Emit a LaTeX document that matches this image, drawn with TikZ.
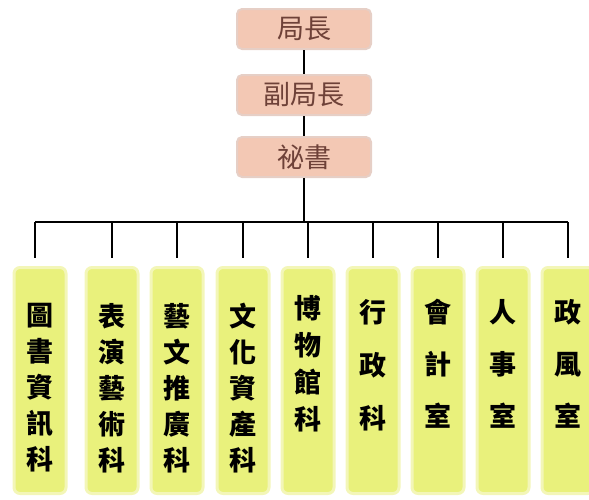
\documentclass[tikz,border=0pt]{standalone}
\usepackage{fontspec}
\newfontfamily\cjk{Noto Sans CJK TC}
\definecolor{topfill}{HTML}{F3C8B4}
\definecolor{topedge}{HTML}{E6CFC6}
\definecolor{toptext}{HTML}{6E4138}
\definecolor{botfill}{HTML}{E9F17C}
\definecolor{botedge}{HTML}{F3F6B8}
\begin{document}
\begin{tikzpicture}[x=1pt,y=-1pt,
  topbox/.style={draw=topedge,fill=topfill,line width=2pt,rounded corners=5pt,
    minimum width=134pt,minimum height=40pt,inner sep=0pt,
    font=\cjk\fontsize{27}{27}\selectfont,text=toptext},
  botbox/.style={draw=botedge,fill=botfill,line width=3pt,rounded corners=6pt,
    minimum width=52pt,minimum height=226pt,inner sep=0pt,anchor=north},
  vtext/.style={inner sep=0pt,anchor=north,align=center,text=black,
    font=\cjk\bfseries\fontsize{27}{#1}\selectfont},
  link/.style={draw=black,line width=2pt}]
\useasboundingbox (0,0) rectangle (589,499);
\node[topbox] (chief) at (304,29) {局長};
\node[topbox] (deputy) at (304,95) {副局長};
\node[topbox] (secr) at (304,157) {祕書};
\foreach \n/\x in {b1/40,b2/112,b3/177,b4/243,b5/308,b6/373,b7/438,b8/503,b9/568}
  \node[botbox] (\n) at (\x,266) {};
\node[vtext=36] (t1) at ([yshift=-37pt]b1.north) {圖\\書\\資\\訊\\科};
\node[vtext=36] (t2) at ([yshift=-37pt]b2.north) {表\\演\\藝\\術\\科};
\node[vtext=36] (t3) at ([yshift=-37pt]b3.north) {藝\\文\\推\\廣\\科};
\node[vtext=36] (t4) at ([yshift=-37pt]b4.north) {文\\化\\資\\產\\科};
\node[vtext=37] (t5) at ([yshift=-29pt]b5.north) {博\\物\\館\\科};
\node[vtext=53] (t6) at ([yshift=-33pt]b6.north) {行\\政\\科};
\node[vtext=52] (t7) at ([yshift=-33pt]b7.north) {會\\計\\室};
\node[vtext=52] (t8) at ([yshift=-33pt]b8.north) {人\\事\\室};
\node[vtext=52] (t9) at ([yshift=-33pt]b9.north) {政\\風\\室};
\coordinate (bar) at (304,222);
\draw[link] (chief) -- (deputy);
\draw[link] (deputy) -- (secr);
\draw[link] (secr) -- (bar);
\draw[link] ([xshift=-5pt]bar -| b1) -- (bar -| b9);
\draw[link] ([xshift=-5pt]bar -| b1) -- ([xshift=-5pt,yshift=8pt]b1.north);
\foreach \n in {b2,b3,b4,b5,b6,b7,b8,b9}
  \draw[link] (bar -| \n) -- ([yshift=8pt]\n.north);
\end{tikzpicture}
\end{document}
